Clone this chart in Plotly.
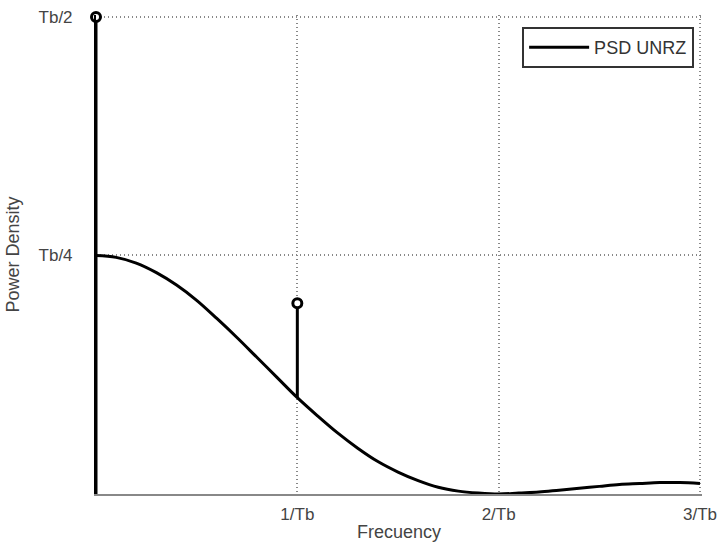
import plotly.graph_objects as go

# frequency in units of 1/Tb, power density in units of Tb
freq = [0.0, 0.1, 0.2, 0.3, 0.4, 0.5, 0.6, 0.7, 0.8, 0.9, 1.0,
        1.1, 1.2, 1.3, 1.4, 1.5, 1.6, 1.7, 1.8, 1.9, 2.0,
        2.1, 2.2, 2.3, 2.4, 2.5, 2.6, 2.7, 2.8, 2.9, 3.0]
psd = [0.250, 0.248, 0.242, 0.232, 0.219, 0.203, 0.184, 0.164, 0.143, 0.122, 0.101,
       0.082, 0.064, 0.048, 0.034, 0.023, 0.014, 0.007, 0.003, 0.001, 0.000,
       0.001, 0.002, 0.004, 0.006, 0.008, 0.010, 0.011, 0.012, 0.012, 0.011]

impulse_freq = [0.0, 1.0]
impulse_base = [0.0, 0.101]
impulse_top = [0.5, 0.2]

x_tickvals = [0, 1, 2, 3]
x_ticktext = ["", "1/Tb", "2/Tb", "3/Tb"]
y_tickvals = [0, 0.25, 0.5]
y_ticktext = ["", "Tb/4", "Tb/2"]

fig = go.Figure()

fig.add_trace(go.Scatter(x=freq, y=psd, mode="lines", name="PSD UNRZ",
                         line=dict(color="black", width=3, shape="spline"),
                         cliponaxis=False))

for f, b, t in zip(impulse_freq, impulse_base, impulse_top):
    fig.add_trace(go.Scatter(x=[f, f], y=[b, t], mode="lines", showlegend=False,
                             line=dict(color="black", width=3), cliponaxis=False))
fig.add_trace(go.Scatter(x=impulse_freq, y=impulse_top, mode="markers", showlegend=False,
                         marker=dict(symbol="circle", size=9, color="white",
                                     line=dict(color="black", width=3)),
                         cliponaxis=False))

font_family = "Liberation Sans, Arial, sans-serif"
fig.update_layout(
    width=717, height=548,
    margin=dict(l=96, r=15, t=15, b=54, autoexpand=False),
    paper_bgcolor="white", plot_bgcolor="white",
    font=dict(family=font_family, size=17, color="#444"),
    showlegend=True,
    legend=dict(x=0.987, xanchor="right", y=0.975, yanchor="top",
                bordercolor="#333", borderwidth=2, bgcolor="white",
                font=dict(size=18, color="#333"),
                itemwidth=60, tracegroupgap=0),
    xaxis=dict(range=[0, 3.01], tickvals=x_tickvals, ticktext=x_ticktext,
               showgrid=True, gridcolor="#888", griddash="1px,3px", gridwidth=1.5,
               showline=True, linecolor="#888", linewidth=2, zeroline=False,
               ticks="", ticklabelstandoff=4, automargin=False,
               ticklabeloverflow="allow",
               title=dict(text="Frecuency", standoff=2, font=dict(size=18, color="#444"))),
    yaxis=dict(range=[0, 0.502], tickvals=y_tickvals, ticktext=y_ticktext,
               showgrid=True, gridcolor="#888", griddash="1px,3px", gridwidth=1.5,
               showline=True, linecolor="black", linewidth=2, zeroline=False,
               ticks="", ticklabelstandoff=18, automargin=False,
               ticklabeloverflow="allow",
               title=dict(text="Power Density", standoff=14, font=dict(size=18, color="#444"))),
)

fig.write_html("out.html", config={"displayModeBar": False},
               post_script="document.body.style.margin='0';")
